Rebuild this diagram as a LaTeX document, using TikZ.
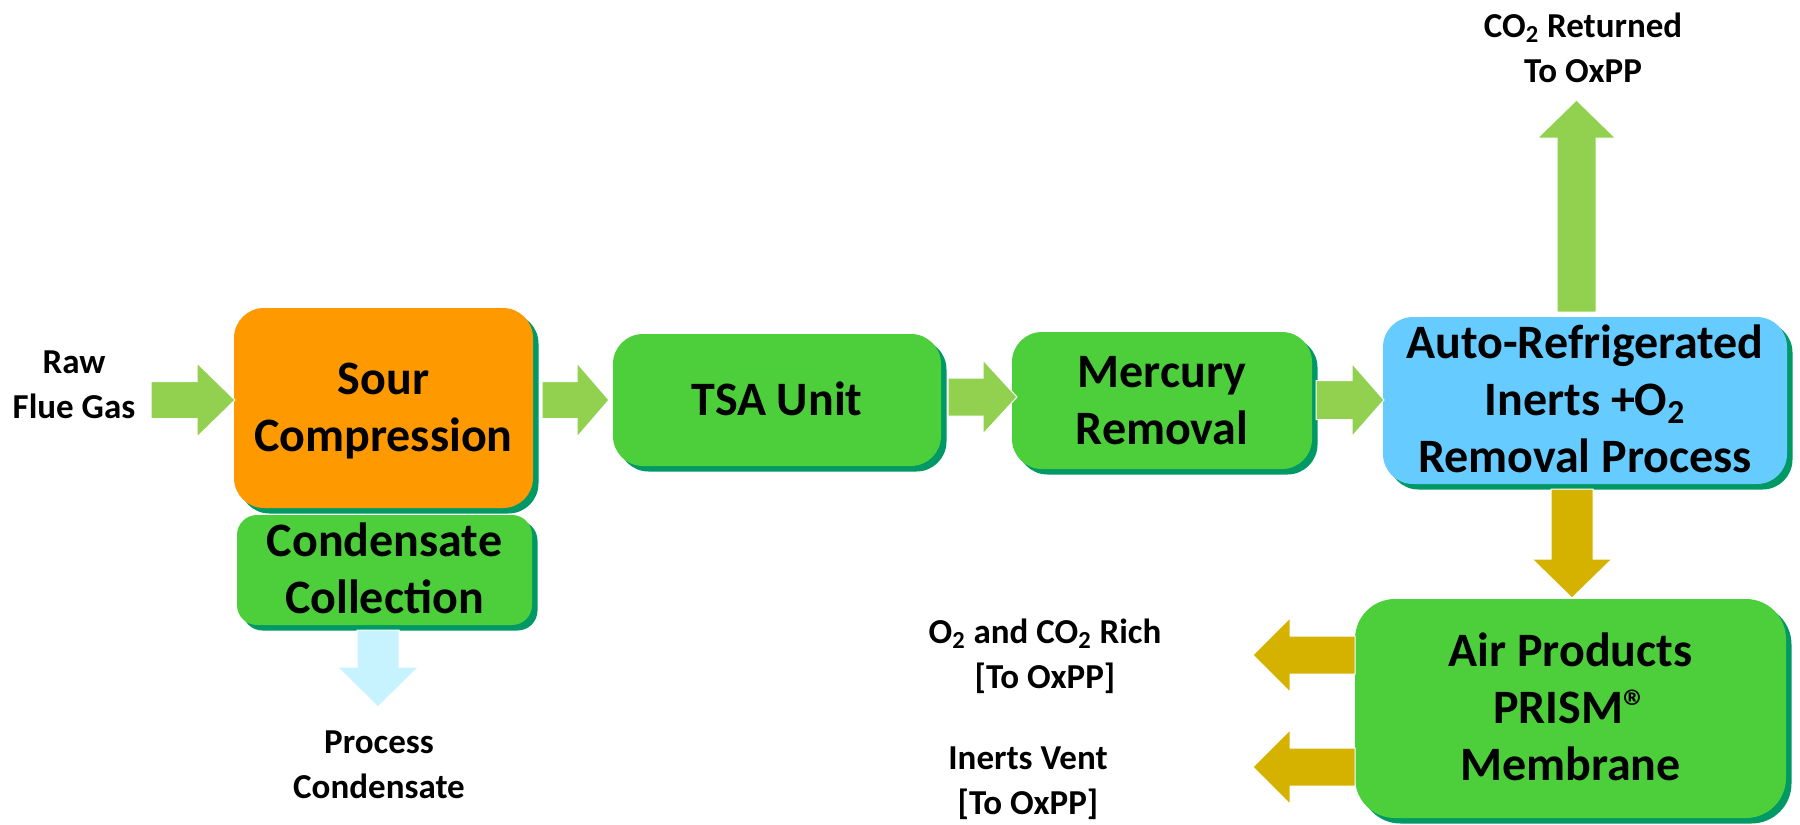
\documentclass[tikz,border=0pt]{standalone}
\usepackage{fontspec}
\setmainfont{Carlito}
\usetikzlibrary{shadows}
\definecolor{bgreen}{RGB}{76,207,59}
\definecolor{sgreen}{RGB}{0,153,102}
\definecolor{borange}{RGB}{255,153,0}
\definecolor{bblue}{RGB}{102,204,255}
\definecolor{agreen}{RGB}{146,208,80}
\definecolor{agold}{RGB}{214,178,0}
\definecolor{acyan}{RGB}{198,243,255}
% horizontal block arrow: fill, x start, x head base, x tip, y centre, shaft half, head half
\newcommand\harr[7]{\fill[#1,draw=white,line width=0.5pt] (#2,#5-#6) -- (#3,#5-#6) -- (#3,#5-#7) -- (#4,#5) -- (#3,#5+#7) -- (#3,#5+#6) -- (#2,#5+#6) -- cycle;}
% vertical block arrow: fill, y start, y head base, y tip, x centre, shaft half, head half
\newcommand\varr[7]{\fill[#1,draw=white,line width=0.5pt] (#5-#6,#2) -- (#5-#6,#3) -- (#5-#7,#3) -- (#5,#4) -- (#5+#7,#3) -- (#5+#6,#3) -- (#5+#6,#2) -- cycle;}
\begin{document}
\begin{tikzpicture}[x=0.5pt,y=-0.5pt,
  box/.style={rectangle, rounded corners=15pt, align=center,
    font=\fontsize{24}{28.5}\selectfont\bfseries, text depth=0pt, inner sep=0pt,
    drop shadow={shadow xshift=2.75pt,shadow yshift=-2.75pt,fill=sgreen,opacity=1}},
  one/.style={text height=15.2pt},
  two/.style={text height=43.7pt},
  three/.style={text height=72.2pt},
  lbl/.style={align=center, font=\fontsize{17.5}{22.5}\selectfont\bfseries, inner sep=0pt, anchor=base}]
\useasboundingbox (0,0) rectangle (1800,825);

% boxes
\node[box, fill=borange, two, minimum width=149.5pt, minimum height=100pt] (sour) at (383.5,408) {Sour\\Compression};
\node[box, fill=bgreen, two, rounded corners=10pt, minimum width=147.5pt, minimum height=55pt] (cond) at (384.5,570) {Condensate\\Collection};
\node[box, fill=bgreen, one, minimum width=164pt, minimum height=66pt] (tsa) at (777,400) {TSA Unit};
\node[box, fill=bgreen, two, minimum width=150pt, minimum height=68.5pt] (hg) at (1162,400.5) {Mercury\\Removal};
\node[box, fill=bblue, three, minimum width=202pt, minimum height=83.5pt] (auto) at (1585,400.5) {Auto-Refrigerated\\Inerts +O\textsubscript{2}\\Removal Process};
\node[box, fill=bgreen, three, rounded corners=20pt, minimum width=215.5pt, minimum height=109.5pt] (prism) at (1570.5,708.5) {Air Products\\PRISM®\\Membrane};

% block arrows
\harr{agreen}{151}{197}{235}{400}{18.5}{37}
\harr{agreen}{542}{577}{609}{400}{18.5}{37}
\harr{agreen}{948}{983}{1017}{397}{19}{37}
\harr{agreen}{1316}{1352}{1384}{400}{19.5}{36.5}
\varr{agreen}{312}{138}{100}{1576.5}{19.5}{39}
\varr{agold}{489}{559}{598}{1572}{21}{40}
\varr{acyan}{630}{667}{707}{378}{21}{40.5}
\harr{agold}{1355}{1290}{1253}{655}{19}{37}
\harr{agold}{1355}{1290}{1253}{767}{19}{37}

% labels
\node[lbl] (raw) at (74,418) {Raw\\Flue Gas};
\node[lbl] (co2) at (1583,82) {CO\textsubscript{2} Returned\\To OxPP};
\node[lbl] (proc) at (379,798) {Process\\Condensate};
\node[lbl] (rich) at (1045,688) {O\textsubscript{2} and CO\textsubscript{2} Rich\\{[To OxPP]}};
\node[lbl] (vent) at (1028,814) {Inerts Vent\\{[To OxPP]}};
\end{tikzpicture}
\end{document}
